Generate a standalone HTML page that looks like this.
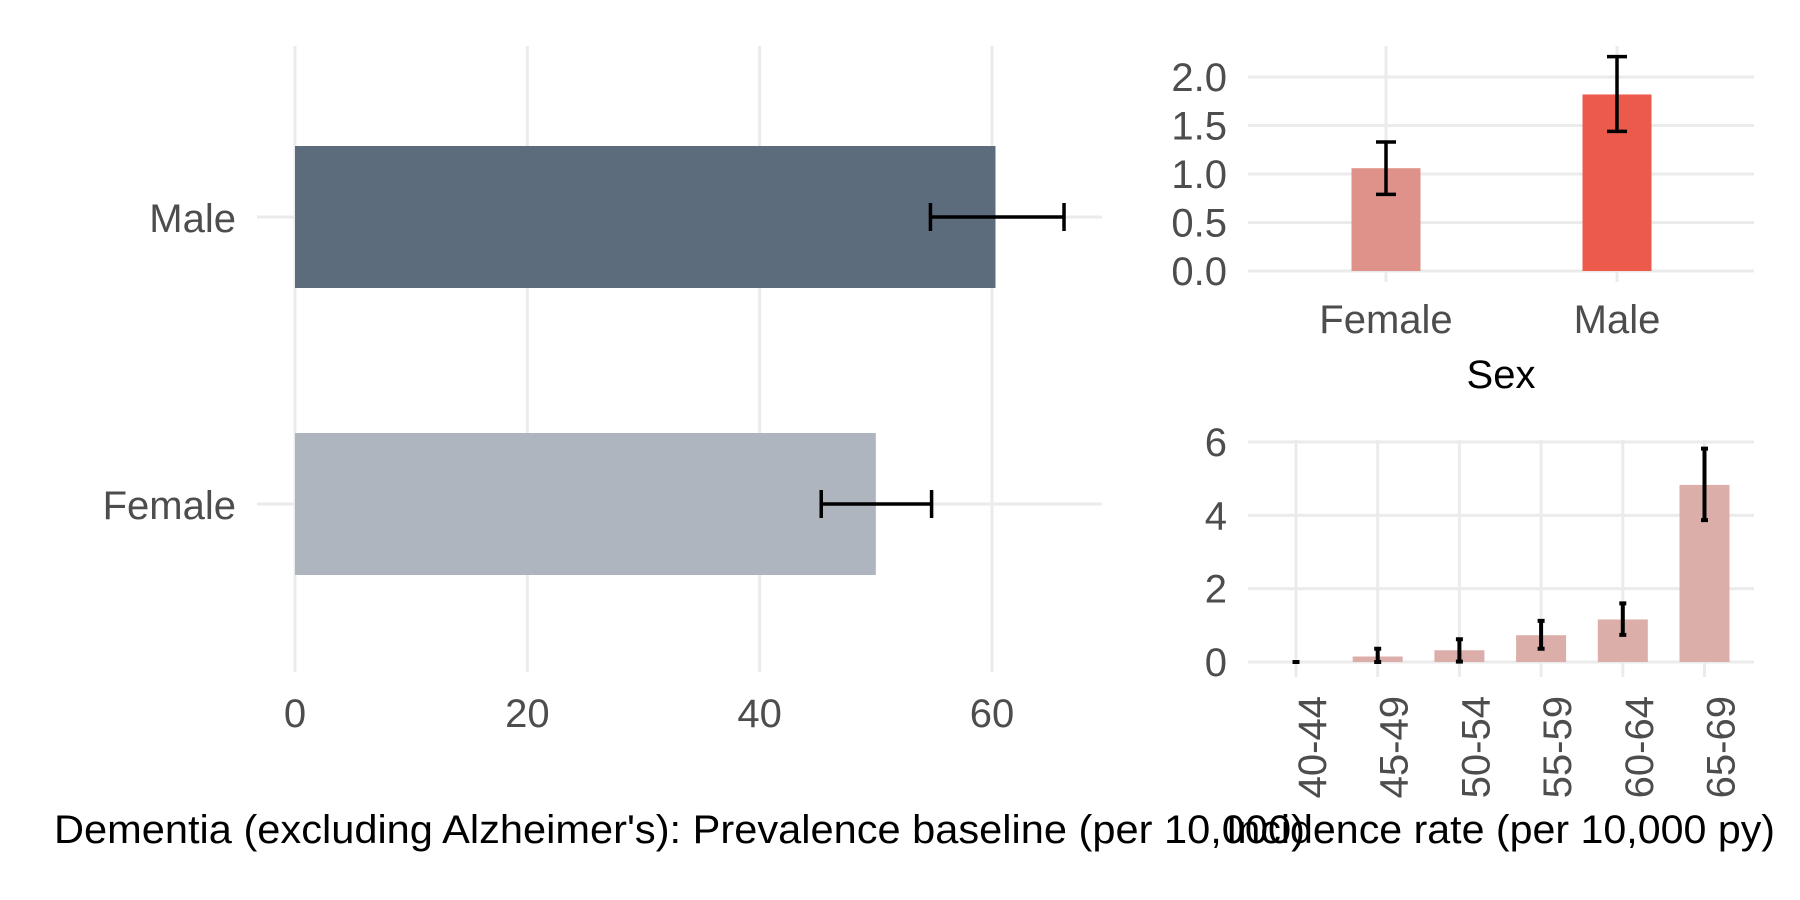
<!DOCTYPE html>
<html><head><meta charset="utf-8"><style>
html,body{margin:0;padding:0;background:#fff}
svg{display:block;font-family:"Liberation Sans",sans-serif}
</style></head><body>
<svg id="c" width="1800" height="900" viewBox="0 0 1800 900"></svg>
<script>
const prevCats = ["Male","Female"];
const prevVals = [60.3, 50.0];
const prevLo = [54.7, 45.3];
const prevHi = [66.2, 54.8];
const prevTicks = [0,20,40,60];

const sexCats = ["Female","Male"];
const sexVals = [1.06, 1.82];
const sexLo = [0.79, 1.44];
const sexHi = [1.33, 2.21];
const sexTicks = ["0.0","0.5","1.0","1.5","2.0"];

const ageCats = ["40-44","45-49","50-54","55-59","60-64","65-69"];
const ageVals = [0, 0.15, 0.32, 0.73, 1.16, 4.83];
const ageLo = [0, 0, 0.01, 0.36, 0.74, 3.87];
const ageHi = [0, 0.36, 0.62, 1.12, 1.60, 5.82];
const ageTicks = [0,2,4,6];

const svg = document.getElementById('c');
const NS = 'http://www.w3.org/2000/svg';
function mk(tag, attrs, text){
  const e = document.createElementNS(NS, tag);
  for (const k in attrs) e.setAttribute(k, attrs[k]);
  if (text !== undefined) e.textContent = text;
  svg.appendChild(e);
  return e;
}
const GRID = '#ebebeb', TXT = '#4d4d4d', FS = 40;

// ---- Left panel: prevalence ----
const px = v => 295 + v * (992 - 295) / 60;
const py = i => [217, 504][i];
prevTicks.forEach(t => {
  const l = mk('line', {x1:px(t), x2:px(t), y1:46, y2:672, stroke:GRID, 'stroke-width':3});
  
  
  const tx = mk('text', {x:px(t), y:727, 'font-size':FS, fill:TXT, 'text-anchor':'middle'}, String(t));
  
  
});
prevCats.forEach((c, i) => {
  const g = mk('line', {x1:257, x2:1102, y1:py(i), y2:py(i), stroke:GRID, 'stroke-width':3});
  
  
  const b = mk('rect', {x:px(0), y:py(i)-71, width:px(prevVals[i])-px(0), height:142, fill: i===0?'#5d6c7c':'#aeb5bf'});
  
  
  const e = mk('path', {d:`M${px(prevLo[i])},${py(i)}H${px(prevHi[i])}M${px(prevLo[i])},${py(i)-14}V${py(i)+14}M${px(prevHi[i])},${py(i)-14}V${py(i)+14}`, stroke:'#000', 'stroke-width':3.5, fill:'none'});
  
  
  const t = mk('text', {x:236, y:py(i)+15, 'font-size':FS, fill:TXT, 'text-anchor':'end'}, c);
  
  
});

// ---- Top right: by sex ----
const sy = v => 271 - v * (271 - 77) / 2;
const sx = i => [1386, 1617][i];
sexTicks.forEach(t => {
  const v = parseFloat(t);
  const l = mk('line', {x1:1248, x2:1754, y1:sy(v), y2:sy(v), stroke:GRID, 'stroke-width':3});
  
  
  const tx = mk('text', {x:1227, y:sy(v)+14, 'font-size':FS, fill:TXT, 'text-anchor':'end'}, t);
  
  
});
sexCats.forEach((c, i) => {
  const l = mk('line', {x1:sx(i), x2:sx(i), y1:46, y2:282, stroke:GRID, 'stroke-width':3});
  
  
  const b = mk('rect', {x:sx(i)-34.5, y:sy(sexVals[i]), width:69, height:sy(0)-sy(sexVals[i]), fill: i===0?'#de928a':'#ec5a4b'});
  
  
  const e = mk('path', {d:`M${sx(i)},${sy(sexLo[i])}V${sy(sexHi[i])}M${sx(i)-10},${sy(sexLo[i])}H${sx(i)+10}M${sx(i)-10},${sy(sexHi[i])}H${sx(i)+10}`, stroke:'#000', 'stroke-width':3.5, fill:'none'});
  
  
  const t = mk('text', {x:sx(i), y:333, 'font-size':FS, fill:TXT, 'text-anchor':'middle'}, c);
  
  
});
const st = mk('text', {x:1501, y:388, 'font-size':FS, fill:'#000', 'text-anchor':'middle'}, 'Sex');



// ---- Bottom right: by age ----
const ay = v => 662 - v * (662 - 442) / 6;
const ax = i => 1296 + i * 81.7;
ageTicks.forEach(t => {
  const l = mk('line', {x1:1248, x2:1754, y1:ay(t), y2:ay(t), stroke:GRID, 'stroke-width':3});
  
  
  const tx = mk('text', {x:1227, y:ay(t)+14, 'font-size':FS, fill:TXT, 'text-anchor':'end'}, String(t));
  
  
});
ageCats.forEach((c, i) => {
  const x = ax(i);
  const l = mk('line', {x1:x, x2:x, y1:440, y2:677, stroke:GRID, 'stroke-width':3});
  
  
  const b = mk('rect', {x:x-25, y:ay(ageVals[i]), width:50, height:ay(0)-ay(ageVals[i]), fill:'#dbaea9'});
  
  
  const e = mk('path', {d:`M${x},${ay(ageLo[i])}V${ay(ageHi[i])}M${x-3.5},${ay(ageLo[i])}H${x+3.5}M${x-3.5},${ay(ageHi[i])}H${x+3.5}`, stroke:'#000', 'stroke-width':4, fill:'none'});
  
  
  const t = mk('text', {x:0, y:0, 'font-size':FS, fill:TXT, 'text-anchor':'end', transform:`translate(${x+30},696) rotate(-90)`}, c);
  
  
});

// ---- Axis titles ----
const t1 = mk('text', {x:54, y:843, 'font-size':40, fill:'#000', textLength:1251, lengthAdjust:'spacingAndGlyphs'}, "Dementia (excluding Alzheimer's): Prevalence baseline (per 10,000)");


const t2 = mk('text', {x:1226, y:843, 'font-size':40, fill:'#000', textLength:549, lengthAdjust:'spacingAndGlyphs'}, "Incidence rate (per 10,000 py)");


</script>
</body></html>
